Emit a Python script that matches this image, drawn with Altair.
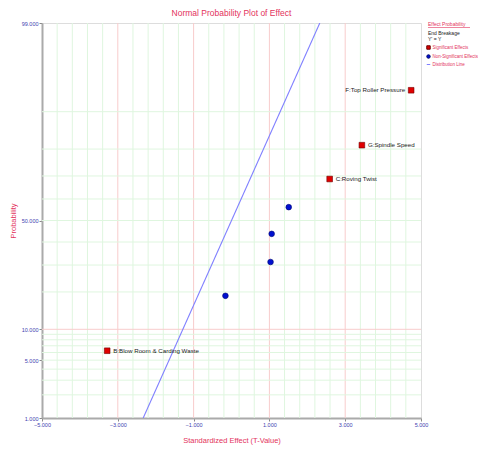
import altair as alt
import pandas as pd
from statistics import NormalDist

# ---- data ----
effect_names = ["B:Blow Room & Carding Waste", "", "", "", "", "C:Roving Twist", "G:Spindle Speed", "F:Top Roller Pressure"]
effect_values = [-3.28, -0.16, 1.03, 1.06, 1.51, 2.59, 3.44, 4.74]
effect_probs = [6.25, 18.75, 31.25, 43.75, 56.25, 68.75, 81.25, 93.75]
effect_types = ["Significant Effects", "Non-Significant Effects", "Non-Significant Effects",
                "Non-Significant Effects", "Non-Significant Effects", "Significant Effects",
                "Significant Effects", "Significant Effects"]
label_side = ["right", "", "", "", "", "right", "right", "left"]

line_effect = [-2.33, 2.33]
line_prob = [1.0, 99.0]

legend_types = ["Significant Effects", "Non-Significant Effects", "Distribution Line"]
legend_header = ["Effect Probability", "End Breakage", "Y' = Y"]

x_ticks = [-5, -3, -1, 1, 3, 5]
x_major_grid = [-3, -1, 1, 3]
x_minor_grid = [round(-5 + 0.4 * i, 1) for i in range(1, 25) if round(-5 + 0.4 * i, 1) not in (-3, -1, 1, 3, 5)]
y_ticks = [1, 5, 10, 50, 99]
y_major_grid = [10]
y_minor_grid = [2, 3, 4, 5, 6, 7, 8, 9, 20, 30, 40, 50, 60, 70, 80, 90]

ND = NormalDist()
def z(p):
    return ND.inv_cdf(p / 100.0)

FONT = "Liberation Sans"
RED = "#e3325c"
BLUE_TXT = "#4040b0"

df = pd.DataFrame({"name": effect_names, "effect": effect_values, "prob": effect_probs,
                   "type": effect_types, "side": label_side})
line_df = pd.DataFrame({"effect": line_effect, "prob": line_prob})

xs = alt.Scale(domain=[-5, 5], nice=False, zero=False)
ys = alt.Scale(domain=[z(1), z(99)], nice=False, zero=False)

x_axis = alt.Axis(values=x_ticks, format=".3f", title="Standardized Effect (T-Value)",
                  grid=False, labelColor=BLUE_TXT, labelFontSize=5.5, labelFont=FONT,
                  titleColor=RED, titleFontSize=7.5, titleFont=FONT, titleFontWeight="normal",
                  domainColor="#aaaaaa", domainWidth=2, tickColor="#888888", tickSize=3,
                  labelPadding=1, titlePadding=9, labelFlush=False)
y_axis = alt.Axis(values=[z(p) for p in y_ticks],
                  labelExpr="format(cumulativeNormal(datum.value)*100, '.3f')",
                  title="Probability", grid=False, labelColor=BLUE_TXT, labelFontSize=5.5,
                  labelFont=FONT, titleColor=RED, titleFontSize=7.5, titleFont=FONT,
                  titleFontWeight="normal", domainColor="#aaaaaa", domainWidth=2,
                  tickColor="#888888", tickSize=3, labelPadding=1, titlePadding=4,
                  labelFlush=False)

vminor = alt.Chart(pd.DataFrame({"g": x_minor_grid})).mark_rule(color="#dff6df", strokeWidth=1).encode(
    x=alt.X("g:Q", scale=xs, axis=x_axis))
vmajor = alt.Chart(pd.DataFrame({"g": x_major_grid})).mark_rule(color="#f8cccc", strokeWidth=1).encode(
    x=alt.X("g:Q", scale=xs))
hminor = alt.Chart(pd.DataFrame({"p": y_minor_grid})).transform_calculate(
    zz="quantileNormal(datum.p/100)").mark_rule(color="#dff6df", strokeWidth=1).encode(
    y=alt.Y("zz:Q", scale=ys, axis=y_axis))
hmajor = alt.Chart(pd.DataFrame({"p": y_major_grid})).transform_calculate(
    zz="quantileNormal(datum.p/100)").mark_rule(color="#f8cccc", strokeWidth=1).encode(
    y=alt.Y("zz:Q", scale=ys))

dist_line = alt.Chart(line_df).transform_calculate(
    zz="quantileNormal(datum.prob/100)").mark_line(color="#8080ff", strokeWidth=1.1, clip=True).encode(
    x=alt.X("effect:Q", scale=xs), y=alt.Y("zz:Q", scale=ys))

leg = alt.Legend(orient="none", legendX=384, legendY=22, title=None,
                 labelColor=RED, labelFont=FONT, labelFontSize=4.5,
                 symbolSize=12, rowPadding=0, labelOffset=1.5, symbolStrokeWidth=1)

points = alt.Chart(df).transform_calculate(
    zz="quantileNormal(datum.prob/100)").mark_point(filled=True, opacity=1, strokeWidth=0.6, size=32).encode(
    x=alt.X("effect:Q", scale=xs),
    y=alt.Y("zz:Q", scale=ys),
    color=alt.Color("type:N", scale=alt.Scale(domain=legend_types, range=["#e00000", "#0010d0", "#8080ff"]),
                    legend=leg),
    shape=alt.Shape("type:N", scale=alt.Scale(domain=legend_types, range=["square", "circle", "stroke"]),
                    legend=leg),
    stroke=alt.Stroke("type:N", scale=alt.Scale(domain=legend_types, range=["#700000", "#000870", "#8080ff"]),
                      legend=leg),
)

labels_right = alt.Chart(df).transform_filter("datum.side == 'right'").transform_calculate(
    zz="quantileNormal(datum.prob/100)").mark_text(align="left", dx=6, fontSize=6.2, font=FONT, color="#222222").encode(
    x=alt.X("effect:Q", scale=xs), y=alt.Y("zz:Q", scale=ys), text="name:N")
labels_left = alt.Chart(df).transform_filter("datum.side == 'left'").transform_calculate(
    zz="quantileNormal(datum.prob/100)").mark_text(align="right", dx=-6, fontSize=6.2, font=FONT, color="#222222").encode(
    x=alt.X("effect:Q", scale=xs), y=alt.Y("zz:Q", scale=ys), text="name:N")

hdr_df = pd.DataFrame({"t": legend_header})
hdr0 = alt.Chart(hdr_df).transform_filter(alt.datum.t == legend_header[0]).mark_text(
    align="left", baseline="alphabetic", fontSize=5, font=FONT, color=RED).encode(
    x=alt.value(386), y=alt.value(3), text="t:N")
hdr_ul = alt.Chart(hdr_df).transform_filter(alt.datum.t == legend_header[0]).mark_rule(
    color=RED, strokeWidth=0.6).encode(x=alt.value(386), x2=alt.value(428), y=alt.value(4.5))
hdr1 = alt.Chart(hdr_df).transform_filter(alt.datum.t == legend_header[1]).mark_text(
    align="left", baseline="alphabetic", fontSize=5, font=FONT, color="#222222").encode(
    x=alt.value(386), y=alt.value(12), text="t:N")
hdr2 = alt.Chart(hdr_df).transform_filter(alt.datum.t == legend_header[2]).mark_text(
    align="left", baseline="alphabetic", fontSize=5, font=FONT, color="#222222").encode(
    x=alt.value(386), y=alt.value(18), text="t:N")

chart = alt.layer(vminor, vmajor, hminor, hmajor, dist_line, points, labels_right, labels_left,
                  hdr0, hdr_ul, hdr1, hdr2).properties(
    width=379, height=395,
    title=alt.TitleParams("Normal Probability Plot of Effect", color=RED, fontSize=8.5, font=FONT,
                          fontWeight="normal", offset=4),
    autosize=alt.AutoSizeParams(type="none"),
    padding={"left": 34, "top": 15, "right": 57, "bottom": 27},
).configure_view(stroke="#555555", strokeWidth=1).configure(background="white")

chart.save("out.html", embed_options={"renderer": "svg", "actions": False})
